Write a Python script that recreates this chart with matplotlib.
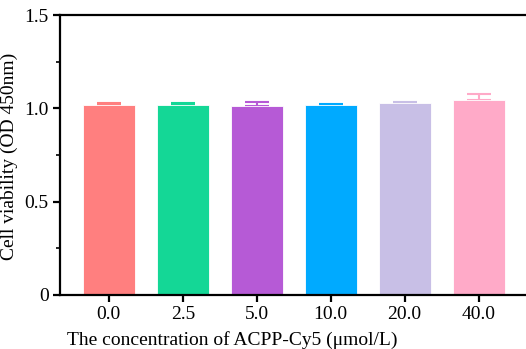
import numpy as np
import matplotlib.pyplot as plt
from matplotlib.ticker import MultipleLocator, FixedFormatter, FixedLocator

plt.rcParams['font.family'] = ['Liberation Serif', 'DejaVu Serif']

concentrations = ['0.0', '2.5', '5.0', '10.0', '20.0', '40.0']
viability = [1.017, 1.017, 1.013, 1.017, 1.026, 1.044]
errors = [0.011, 0.014, 0.022, 0.007, 0.009, 0.030]
colors = ['#FF7F7F', '#14D796', '#B65AD6', '#00AAFF', '#C8BFE6', '#FFAAC8']

fig = plt.figure(figsize=(5.26, 3.49), dpi=100)
ax = fig.add_axes([0.114, 0.155, 0.886, 0.802])

x = np.arange(len(concentrations))
for i in range(len(x)):
    ax.bar(x[i], viability[i], width=0.7, color=colors[i], edgecolor='white',
           linewidth=0.6, zorder=2)
    ax.errorbar(x[i], viability[i], yerr=[[0], [errors[i]]], fmt='none',
                ecolor=colors[i], elinewidth=1.5, capsize=8.5, capthick=1.5,
                zorder=1)

ax.set_xlim(-0.66, 5.64)
ax.set_ylim(0, 1.5)
ax.set_xticks(x)
ax.set_xticklabels(concentrations)
ax.yaxis.set_major_locator(FixedLocator([0, 0.5, 1.0, 1.5]))
ax.yaxis.set_major_formatter(FixedFormatter(['0', '0.5', '1.0', '1.5']))
ax.yaxis.set_minor_locator(MultipleLocator(0.25))

for s in ax.spines.values():
    s.set_linewidth(1.6)
ax.spines['right'].set_visible(False)
ax.tick_params(axis='both', which='major', direction='out', length=5,
               width=1.6, labelsize=14, pad=3)
ax.tick_params(axis='y', which='minor', direction='out', length=3, width=1.2)

ax.set_ylabel('Cell viability (OD 450nm)', fontsize=14)
ax.yaxis.set_label_coords(-0.091, 0.495)
ax.set_xlabel('The concentration of ACPP-Cy5 (\u03bcmol/L)', fontsize=14)
ax.xaxis.set_label_coords(0.369, -0.13)

fig.savefig('out.png', dpi=100)
